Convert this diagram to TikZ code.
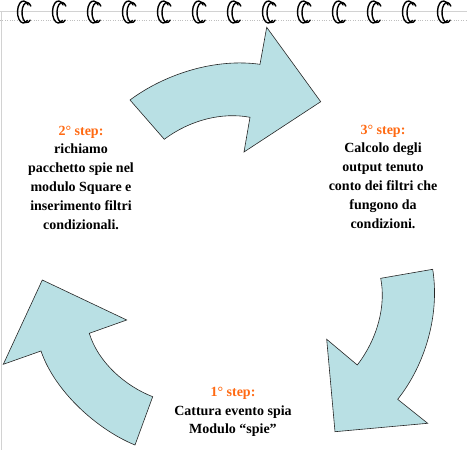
\documentclass[tikz,border=0pt]{standalone}
\usepackage{fontspec}
\setmainfont{Liberation Serif}
\usepackage{xcolor}
\usepackage{tikz}
\definecolor{steporange}{HTML}{FF6A13}
\definecolor{arrowblue}{HTML}{B9E0E4}
\definecolor{pagegray}{HTML}{D2D2D2}
\tikzset{
  bigarrow/.style={draw=black!85,line width=0.6pt,fill=arrowblue,line join=miter},
  steplabel/.style={align=center,inner sep=0pt,
    font=\bfseries\fontsize{14}{18.8}\selectfont},
  ringline/.style={line width=1.4pt,black,line cap=round}
}
\newcommand{\stephead}[1]{\textcolor{steporange}{#1}}

\begin{document}
\begin{tikzpicture}[x=1pt,y=-1pt]
        \useasboundingbox (0,0) rectangle (467,450);
        % page edge
        \draw[pagegray,line width=0.8pt] (0,11) -- (467,11);
        \draw[pagegray,line width=0.8pt] (1,11) -- (1,450);
        \draw[black!25,dotted] (0,20) -- (467,20);
        % spiral rings
        \foreach \x in {25,60,...,445} {
          \draw[ringline] (\x-1.5,12) ++(40:6pt and 11pt)
            arc[start angle=40,end angle=310,x radius=6pt,y radius=11pt];
          \draw[ringline] (\x+2,12.5) ++(40:5pt and 10pt)
            arc[start angle=40,end angle=310,x radius=5pt,y radius=10pt];
        }
        % top arrow
        \draw[bigarrow] (130,100) .. controls (165,74) and (215,58) .. (260,64.3)
          -- (266.7,27.3) -- (320.7,101.7) -- (244,152) -- (250,117.3)
          .. controls (222,112) and (190,120) .. (164.3,139.3) -- cycle;
        % right arrow
        \draw[bigarrow] (432.7,269.3) -- (380.7,278.3)
          .. controls (386,305) and (378,338) .. (357.3,365)
          -- (326.7,339.3) -- (335,431.7) -- (427.7,423.3) -- (397.7,399.3)
          .. controls (425,365) and (440,315) .. cycle;
        % left arrow
        \draw[bigarrow] (42.3,280) -- (126.7,320) -- (89.3,333.3)
          .. controls (98,362) and (125,386) .. (152.7,396.7)
          -- (135,445)
          .. controls (98,430) and (55,392) .. (41,351)
          -- (3.3,364.3) -- cycle;
        % step texts
        \node[steplabel] (step2) at (81,177.5) {\stephead{2° step:}\\
          richiamo\\pacchetto spie nel\\modulo Square e\\
          inserimento filtri\\condizionali.};
        \node[steplabel] (step3) at (383,176.5) {\stephead{3° step:}\\
          Calcolo degli\\output tenuto\\conto dei filtri che\\
          fungono da\\condizioni.};
        \node[steplabel] (step1) at (233,412) {\stephead{1° step:}\\
          Cattura evento spia\\Modulo “spie”};
      \end{tikzpicture}
\end{document}
